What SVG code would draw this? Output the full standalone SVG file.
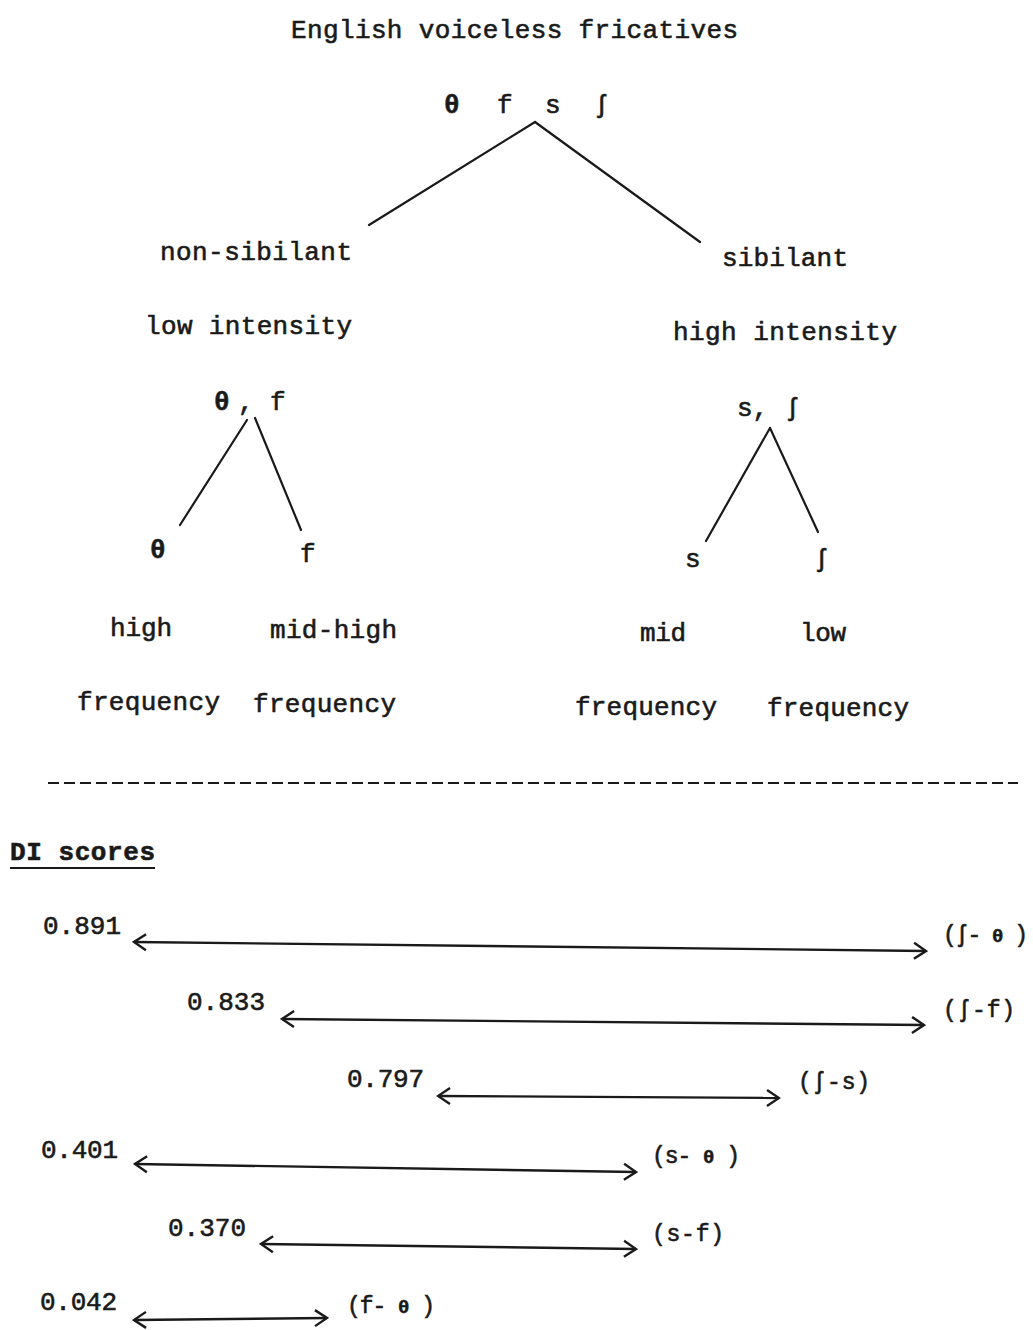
<svg xmlns="http://www.w3.org/2000/svg" width="1033" height="1330" viewBox="0 0 1033 1330">
<style>
text{font-family:"Liberation Mono","DejaVu Sans Mono",monospace;font-size:26px;fill:#1a1a1a;stroke:#1a1a1a;stroke-width:0.6}
.b{font-weight:bold}
.lb{font-size:23px}
.ln{stroke:#1a1a1a;stroke-width:2.2;fill:none;stroke-linecap:round}
.ar{stroke:#1a1a1a;stroke-width:2.4;fill:none}
</style>
<defs>
<marker id="ah" viewBox="0 0 20 20" refX="18" refY="10" markerWidth="20" markerHeight="20" markerUnits="userSpaceOnUse" orient="auto-start-reverse">
<path d="M6,2 L18,10 L6,18" fill="none" stroke="#1a1a1a" stroke-width="2.4"/>
</marker>
</defs>
<rect width="1033" height="1330" fill="#ffffff"/>

<g id="title"><text x="291" y="38" textLength="447" lengthAdjust="spacing">English voiceless fricatives</text></g>

<g id="root">
<text class="b" x="444" y="113" font-size="20">θ</text>
<text x="497" y="113">f</text>
<text x="545" y="113">s</text>
<text x="594" y="113">ʃ</text>
</g>

<g id="nonsib">
<text x="160" y="260" textLength="192" lengthAdjust="spacing">non-sibilant</text>
<text x="145" y="334" textLength="207" lengthAdjust="spacing">low intensity</text>
</g>
<g id="sib">
<text x="722" y="266" textLength="126" lengthAdjust="spacing">sibilant</text>
<text x="673" y="340" textLength="224" lengthAdjust="spacing">high intensity</text>
</g>

<g id="thf">
<text class="b" x="214" y="410" font-size="20">θ</text>
<text x="238" y="410">,</text>
<text x="270" y="410">f</text>
</g>
<g id="sS">
<text x="737" y="416">s,</text>
<text x="785" y="416">ʃ</text>
</g>

<g id="theta-leaf">
<text class="b" x="150" y="558" font-size="20">θ</text>
<text x="110" y="636" textLength="62" lengthAdjust="spacing">high</text>
<text x="77" y="710" textLength="143" lengthAdjust="spacing">frequency</text>
</g>
<g id="f-leaf">
<text x="300" y="562">f</text>
<text x="270" y="638" textLength="127" lengthAdjust="spacing">mid-high</text>
<text x="253" y="712" textLength="143" lengthAdjust="spacing">frequency</text>
</g>
<g id="s-leaf">
<text x="685" y="567">s</text>
<text x="640" y="641" textLength="46" lengthAdjust="spacing">mid</text>
<text x="575" y="715" textLength="142" lengthAdjust="spacing">frequency</text>
</g>
<g id="sh-leaf">
<text x="814" y="567">ʃ</text>
<text x="800" y="641" textLength="46" lengthAdjust="spacing">low</text>
<text x="767" y="716" textLength="142" lengthAdjust="spacing">frequency</text>
</g>

<g id="tree-connectors">
<line class="ln" x1="535" y1="122" x2="369" y2="225"/>
<line class="ln" x1="535" y1="122" x2="700" y2="242"/>
<line class="ln" x1="247" y1="420" x2="180" y2="525"/>
<line class="ln" x1="255" y1="418" x2="301" y2="530"/>
<line class="ln" x1="770" y1="428" x2="706" y2="541"/>
<line class="ln" x1="770" y1="428" x2="818" y2="532"/>
</g>

<g id="separator">
<line x1="48" y1="783" x2="1018" y2="783" stroke="#1a1a1a" stroke-width="2" stroke-dasharray="11,5"/>
</g>

<g id="di-heading">
<text x="10" y="860" textLength="145" lengthAdjust="spacing" class="b">DI scores</text>
<line x1="10" y1="868" x2="155" y2="868" stroke="#1a1a1a" stroke-width="2"/>
</g>

<g id="scores">
<text x="43" y="934" textLength="78" lengthAdjust="spacing">0.891</text>
<text class="lb" x="943" y="942" textLength="85" lengthAdjust="spacing">(ʃ- <tspan class="b" font-size="19">θ</tspan> )</text>
<text x="187" y="1010" textLength="78" lengthAdjust="spacing">0.833</text>
<text class="lb" x="943" y="1017" textLength="72" lengthAdjust="spacing">(ʃ-f)</text>
<text x="347" y="1087" textLength="77" lengthAdjust="spacing">0.797</text>
<text class="lb" x="798" y="1089" textLength="72" lengthAdjust="spacing">(ʃ-s)</text>
<text x="41" y="1158" textLength="77" lengthAdjust="spacing">0.401</text>
<text class="lb" x="652" y="1163" textLength="88" lengthAdjust="spacing">(s- <tspan class="b" font-size="19">θ</tspan> )</text>
<text x="168" y="1236" textLength="78" lengthAdjust="spacing">0.370</text>
<text class="lb" x="652" y="1241" textLength="72" lengthAdjust="spacing">(s-f)</text>
<text x="40" y="1310" textLength="77" lengthAdjust="spacing">0.042</text>
<text class="lb" x="347" y="1313" textLength="88" lengthAdjust="spacing">(f- <tspan class="b" font-size="19">θ</tspan> )</text>
</g>

<g id="score-connectors">
<line class="ar" x1="134" y1="942" x2="926" y2="951" marker-start="url(#ah)" marker-end="url(#ah)"/>
<line class="ar" x1="282" y1="1019" x2="924" y2="1025" marker-start="url(#ah)" marker-end="url(#ah)"/>
<line class="ar" x1="438" y1="1096" x2="779" y2="1098" marker-start="url(#ah)" marker-end="url(#ah)"/>
<line class="ar" x1="135" y1="1164" x2="636" y2="1172" marker-start="url(#ah)" marker-end="url(#ah)"/>
<line class="ar" x1="261" y1="1244" x2="636" y2="1249" marker-start="url(#ah)" marker-end="url(#ah)"/>
<line class="ar" x1="134" y1="1320" x2="327" y2="1318" marker-start="url(#ah)" marker-end="url(#ah)"/>
</g>
</svg>
